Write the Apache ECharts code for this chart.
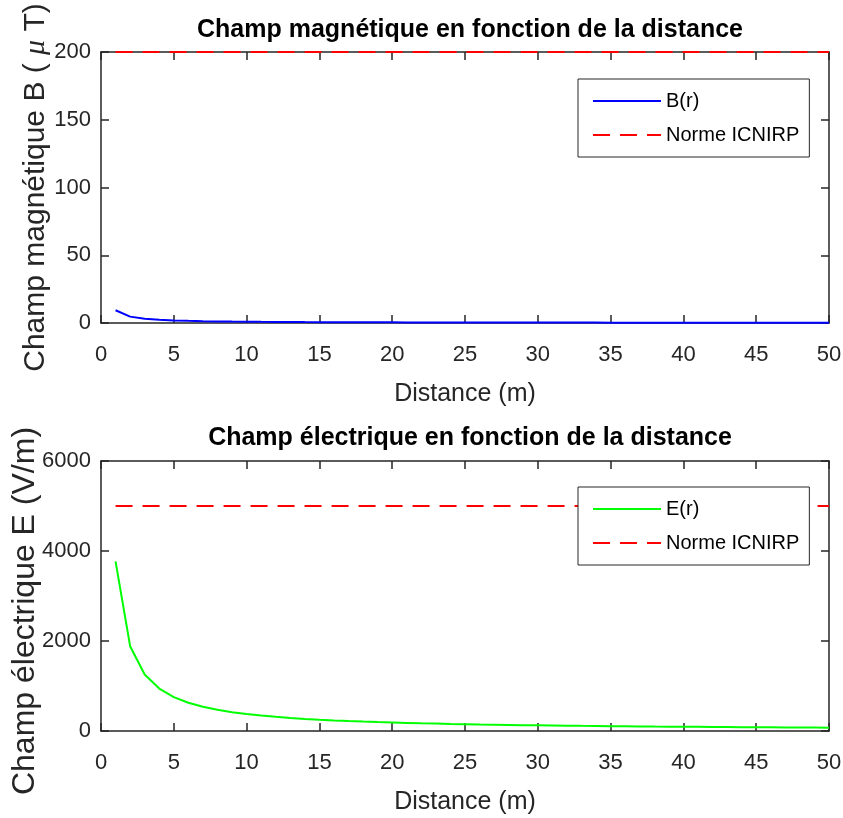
<!DOCTYPE html>
<html>
<head>
<meta charset="utf-8">
<script src="https://cdn.jsdelivr.net/npm/echarts@6/dist/echarts.min.js"></script>
<style>
html,body{margin:0;padding:0;background:#fff;}
#chart{width:843px;height:818px;}
</style>
</head>
<body>
<div id="chart"></div>
<script>
// Distance r (m)
var distances = [1,2,3,4,5,6,7,8,9,10,11,12,13,14,15,16,17,18,19,20,21,22,23,24,25,26,27,28,29,30,31,32,33,34,35,36,37,38,39,40,41,42,43,44,45,46,47,48,49,50];
// Magnetic field B(r) in µT
var bValues = [9.4,4.7,3.13,2.35,1.88,1.57,1.34,1.18,1.04,0.94,0.85,0.78,0.72,0.67,0.63,0.59,0.55,0.52,0.49,0.47,0.45,0.43,0.41,0.39,0.38,0.36,0.35,0.34,0.32,0.31,0.30,0.29,0.28,0.28,0.27,0.26,0.25,0.25,0.24,0.24,0.23,0.22,0.22,0.21,0.21,0.20,0.20,0.20,0.19,0.19];
// Electric field E(r) in V/m
var eValues = [3770,1885,1257,943,754,628,539,471,419,377,343,314,290,269,251,236,222,209,198,189,180,171,164,157,151,145,140,135,130,126,122,118,114,111,108,105,102,99,97,94,92,90,88,86,84,82,80,79,77,75];
// ICNIRP limits
var normR = [1, 50];
var normB = [200, 200];
var normE = [5000, 5000];
// Tick settings
var xTicks = {min: 0, max: 50, interval: 5};
var bTicks = {min: 0, max: 200, interval: 50};
var eTicks = {min: 0, max: 6000, interval: 2000};

function pairs(xs, ys) { return xs.map(function (x, i) { return [x, ys[i]]; }); }

var FONT = "'Liberation Sans', Arial, Helvetica, sans-serif";
var AX = '#262626';

function axisBase(extra) {
  var o = {
    type: 'value',
    nameMoveOverlap: false,
    axisLine: {show: true, onZero: false, lineStyle: {color: AX, width: 1.5}},
    axisTick: {show: true, inside: true, length: 8, lineStyle: {color: AX, width: 1.5}},
    splitLine: {show: false},
    axisLabel: {show: false}
  };
  for (var k in extra) o[k] = extra[k];
  return o;
}

function plain(v) { return String(v); }
var labelStyle = {show: true, color: AX, fontSize: 22, fontFamily: FONT, formatter: plain};

function legendCfg(top, names) {
  return {left: 578, top: top, orient: 'vertical', itemWidth: 68, itemHeight: 14, itemGap: 14,
    padding: [12, 10, 12, 14], borderColor: AX, borderWidth: 1, backgroundColor: '#fff',
    itemStyle: {opacity: 0, borderWidth: 0},
    textStyle: {fontSize: 20, color: '#000', fontFamily: FONT},
    data: names, selectedMode: false};
}

var chart = echarts.init(document.getElementById('chart'), null, {renderer: 'canvas'});
chart.setOption({
  animation: false,
  backgroundColor: '#ffffff',
  title: [
    {text: 'Champ magnétique en fonction de la distance', left: 465, top: 13, textAlign: 'center',
     textStyle: {fontSize: 25, fontWeight: 'bold', color: '#000', fontFamily: FONT}},
    {text: 'Champ électrique en fonction de la distance', left: 465, top: 421, textAlign: 'center',
     textStyle: {fontSize: 25, fontWeight: 'bold', color: '#000', fontFamily: FONT}}
  ],
  grid: [
    {left: 101, right: 14, top: 52, height: 271, containLabel: false, outerBoundsMode: 'none'},
    {left: 101, right: 14, top: 461, height: 270, containLabel: false, outerBoundsMode: 'none'}
  ],
  xAxis: [
    axisBase({gridIndex: 0, position: 'bottom', min: xTicks.min, max: xTicks.max, interval: xTicks.interval,
      axisLabel: Object.assign({margin: 21}, labelStyle),
      name: 'Distance (m)', nameLocation: 'middle', nameGap: 59,
      nameTextStyle: {fontSize: 25, color: AX, fontFamily: FONT}}),
    axisBase({gridIndex: 0, position: 'top', min: xTicks.min, max: xTicks.max, interval: xTicks.interval}),
    axisBase({gridIndex: 1, position: 'bottom', min: xTicks.min, max: xTicks.max, interval: xTicks.interval,
      axisLabel: Object.assign({margin: 21}, labelStyle),
      name: 'Distance (m)', nameLocation: 'middle', nameGap: 59,
      nameTextStyle: {fontSize: 25, color: AX, fontFamily: FONT}}),
    axisBase({gridIndex: 1, position: 'top', min: xTicks.min, max: xTicks.max, interval: xTicks.interval})
  ],
  yAxis: [
    axisBase({gridIndex: 0, position: 'left', min: bTicks.min, max: bTicks.max, interval: bTicks.interval,
      axisLabel: Object.assign({margin: 10}, labelStyle),
      name: 'Champ magnétique B ( {mu|μ} T)', nameLocation: 'middle', nameGap: 50, nameRotate: 90,
      nameTextStyle: {fontSize: 30, color: AX, fontFamily: FONT,
        rich: {mu: {fontSize: 30, fontStyle: 'italic', fontFamily: "'Liberation Serif', serif", color: AX}}}}),
    axisBase({gridIndex: 0, position: 'right', min: bTicks.min, max: bTicks.max, interval: bTicks.interval}),
    axisBase({gridIndex: 1, position: 'left', min: eTicks.min, max: eTicks.max, interval: eTicks.interval,
      axisLabel: Object.assign({margin: 10}, labelStyle),
      name: 'Champ électrique E (V/m)', nameLocation: 'middle', nameGap: 60, nameRotate: 90,
      nameTextStyle: {fontSize: 32, color: AX, fontFamily: FONT, padding: [0, 30, 0, 0]}}),
    axisBase({gridIndex: 1, position: 'right', min: eTicks.min, max: eTicks.max, interval: eTicks.interval})
  ],
  legend: [
    legendCfg(79, ['B(r)', 'Norme ICNIRP']),
    legendCfg(487, ['E(r)', 'Norme ICNIRP'])
  ],
  series: [
    {name: 'B(r)', type: 'line', xAxisIndex: 0, yAxisIndex: 0, data: pairs(distances, bValues),
     showSymbol: false, symbol: 'none', clip: false, lineStyle: {color: '#0000ff', width: 2}, itemStyle: {color: '#0000ff'}},
    {name: 'Norme ICNIRP', type: 'line', xAxisIndex: 0, yAxisIndex: 0, data: pairs(normR, normB),
     showSymbol: false, symbol: 'none', clip: false, lineStyle: {color: '#ff0000', width: 2, type: [17, 10]}, itemStyle: {color: '#ff0000'}},
    {name: 'E(r)', type: 'line', xAxisIndex: 2, yAxisIndex: 2, data: pairs(distances, eValues),
     showSymbol: false, symbol: 'none', clip: false, lineStyle: {color: '#00ff00', width: 2}, itemStyle: {color: '#00ff00'}},
    {name: 'Norme ICNIRP', type: 'line', xAxisIndex: 2, yAxisIndex: 2, data: pairs(normR, normE),
     showSymbol: false, symbol: 'none', clip: false, lineStyle: {color: '#ff0000', width: 2, type: [17, 10]}, itemStyle: {color: '#ff0000'}}
  ]
});
</script>
</body>
</html>
